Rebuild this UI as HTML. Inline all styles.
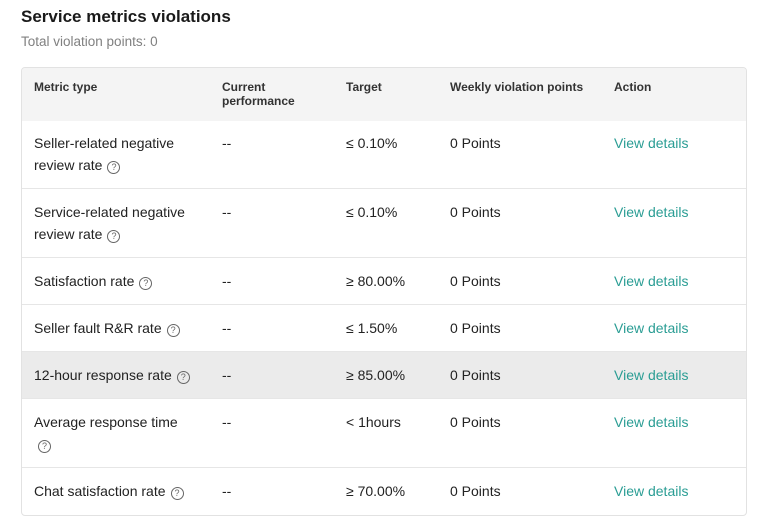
<!DOCTYPE html>
<html><head><meta charset="utf-8"><style>
body{margin:0;width:767px;height:517px;background:#fff;font-family:"Liberation Sans",sans-serif;color:#222;position:relative;overflow:hidden}
.t{position:absolute;left:21px;top:7px;font-size:17px;font-weight:bold;color:#1a1a1a}
.s{position:absolute;left:21px;top:34px;font-size:13.5px;color:#808080}
.tbl{position:absolute;left:21px;top:67px;width:724px;height:447px;border:1px solid #e2e2e2;border-radius:4px;overflow:hidden}
.hd{position:absolute;left:0;top:0;width:724px;height:53px;background:#f4f4f4;font-size:12px;font-weight:bold;color:#333}
.r{position:absolute;left:0;width:724px;border-top:1px solid #e6e6e6;font-size:14px}
.c{position:absolute;line-height:22px}
.hd .c{line-height:14px;top:12px}
.a{color:#2a9d94}
.q{display:inline-block;width:11px;height:11px;border:1px solid #666;border-radius:50%;font-size:9px;line-height:11px;text-align:center;color:#666;vertical-align:0px;margin-left:5px}
</style></head><body>
<div class="t">Service metrics violations</div>
<div class="s">Total violation points: 0</div>
<div class="tbl">
<div class="hd"><div class="c" style="left:12px">Metric type</div><div class="c" style="left:200px">Current<br>performance</div><div class="c" style="left:324px">Target</div><div class="c" style="left:428px">Weekly violation points</div><div class="c" style="left:592px">Action</div></div>

<div class="r" style="top:52px;height:68px;border-top:none"><div class="c" style="left:12px;top:12px">Seller-related negative<br>review rate<span class="q">?</span></div><div class="c" style="left:200px;top:12px">--</div><div class="c" style="left:324px;top:12px">≤ 0.10%</div><div class="c" style="left:428px;top:12px">0 Points</div><div class="c a" style="left:592px;top:12px">View details</div></div>

<div class="r" style="top:120px;height:69px"><div class="c" style="left:12px;top:12px">Service-related negative<br>review rate<span class="q">?</span></div><div class="c" style="left:200px;top:12px">--</div><div class="c" style="left:324px;top:12px">≤ 0.10%</div><div class="c" style="left:428px;top:12px">0 Points</div><div class="c a" style="left:592px;top:12px">View details</div></div>

<div class="r" style="top:189px;height:47px"><div class="c" style="left:12px;top:12px">Satisfaction rate<span class="q">?</span></div><div class="c" style="left:200px;top:12px">--</div><div class="c" style="left:324px;top:12px">≥ 80.00%</div><div class="c" style="left:428px;top:12px">0 Points</div><div class="c a" style="left:592px;top:12px">View details</div></div>

<div class="r" style="top:236px;height:47px"><div class="c" style="left:12px;top:12px">Seller fault R&amp;R rate<span class="q">?</span></div><div class="c" style="left:200px;top:12px">--</div><div class="c" style="left:324px;top:12px">≤ 1.50%</div><div class="c" style="left:428px;top:12px">0 Points</div><div class="c a" style="left:592px;top:12px">View details</div></div>

<div class="r" style="top:283px;height:47px;background:#ebebeb"><div class="c" style="left:12px;top:12px">12-hour response rate<span class="q">?</span></div><div class="c" style="left:200px;top:12px">--</div><div class="c" style="left:324px;top:12px">≥ 85.00%</div><div class="c" style="left:428px;top:12px">0 Points</div><div class="c a" style="left:592px;top:12px">View details</div></div>

<div class="r" style="top:330px;height:69px"><div class="c" style="left:12px;top:12px">Average response time<br><span class="q" style="margin-left:4px">?</span></div><div class="c" style="left:200px;top:12px">--</div><div class="c" style="left:324px;top:12px">&lt; 1hours</div><div class="c" style="left:428px;top:12px">0 Points</div><div class="c a" style="left:592px;top:12px">View details</div></div>

<div class="r" style="top:399px;height:48px"><div class="c" style="left:12px;top:12px">Chat satisfaction rate<span class="q">?</span></div><div class="c" style="left:200px;top:12px">--</div><div class="c" style="left:324px;top:12px">≥ 70.00%</div><div class="c" style="left:428px;top:12px">0 Points</div><div class="c a" style="left:592px;top:12px">View details</div></div>
</div>
</body></html>
